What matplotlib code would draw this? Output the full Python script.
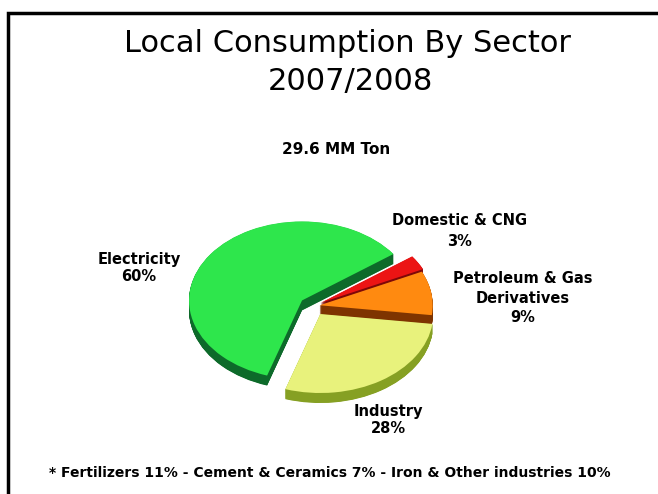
import matplotlib.pyplot as plt
import matplotlib.patches as mpatches
import numpy as np

# data
sectors = ['Electricity', 'Industry', 'Petroleum & Gas\nDerivatives', 'Domestic & CNG']
shares = [60, 28, 9, 3]
top_colors = ['#2ee64c', '#e8f27c', '#ff8a10', '#ec1414']
side_colors = ['#0d6a2a', '#86a023', '#7e3400', '#7e0808']
explode = [0.12, 0.12, 0.06, 0.08]

W, H = 658, 494
fig = plt.figure(figsize=(W / 100, H / 100), dpi=100)
fig.patch.set_facecolor('white')

def fx(px):
    return px / W

def fy(py):
    return 1 - py / H

# frame
fig.patches.append(mpatches.Rectangle((fx(8), fy(600)), 1.2, fy(13) - fy(600),
                                      transform=fig.transFigure, fill=False,
                                      edgecolor='black', linewidth=2.5))

# pie axes: px per unit and centre in pixels
rx, ry = 113, 79
cx, cy = 313, 306
xl, yl = 1.45, 1.6
ax = fig.add_axes([fx(cx - xl * rx), fy(cy + yl * ry), 2 * xl * rx / W, 2 * yl * ry / H])

depth = 10 / ry
for k in np.linspace(depth, 0.005, 25):
    ax.pie(shares, colors=side_colors, explode=explode, startangle=36,
           center=(0, -k), wedgeprops=dict(linewidth=0))
ax.pie(shares, colors=top_colors, explode=explode, startangle=36,
       center=(0, 0), wedgeprops=dict(linewidth=0))
ax.set_aspect('auto')
ax.set_xlim(-xl, xl)
ax.set_ylim(-yl, yl)
ax.axis('off')

# titles
fig.text(fx(347), fy(44), 'Local Consumption By Sector', ha='center', va='center',
         fontsize=22, family='DejaVu Sans')
fig.text(fx(350), fy(81), '2007/2008', ha='center', va='center',
         fontsize=22, family='DejaVu Sans')
fig.text(fx(336), fy(150), '29.6 MM Ton', ha='center', va='center',
         fontsize=11, fontweight='bold', family='DejaVu Sans')

# slice labels
lab_pos = [(139, 268), (388, 420), (523, 298), (460, 231)]
lab_gap = [1.15, 1.15, 1.4, 1.5]
for name, val, (px, py), ls in zip(sectors, shares, lab_pos, lab_gap):
    fig.text(fx(px), fy(py), f'{name}\n{val}%', ha='center', va='center',
             fontsize=10.5, fontweight='bold', family='DejaVu Sans', linespacing=ls)

fig.text(fx(330), fy(473),
         '* Fertilizers 11% - Cement & Ceramics 7% - Iron & Other industries 10%',
         ha='center', va='center', fontsize=10, fontweight='bold', family='DejaVu Sans')

fig.savefig('out.png', dpi=100)
